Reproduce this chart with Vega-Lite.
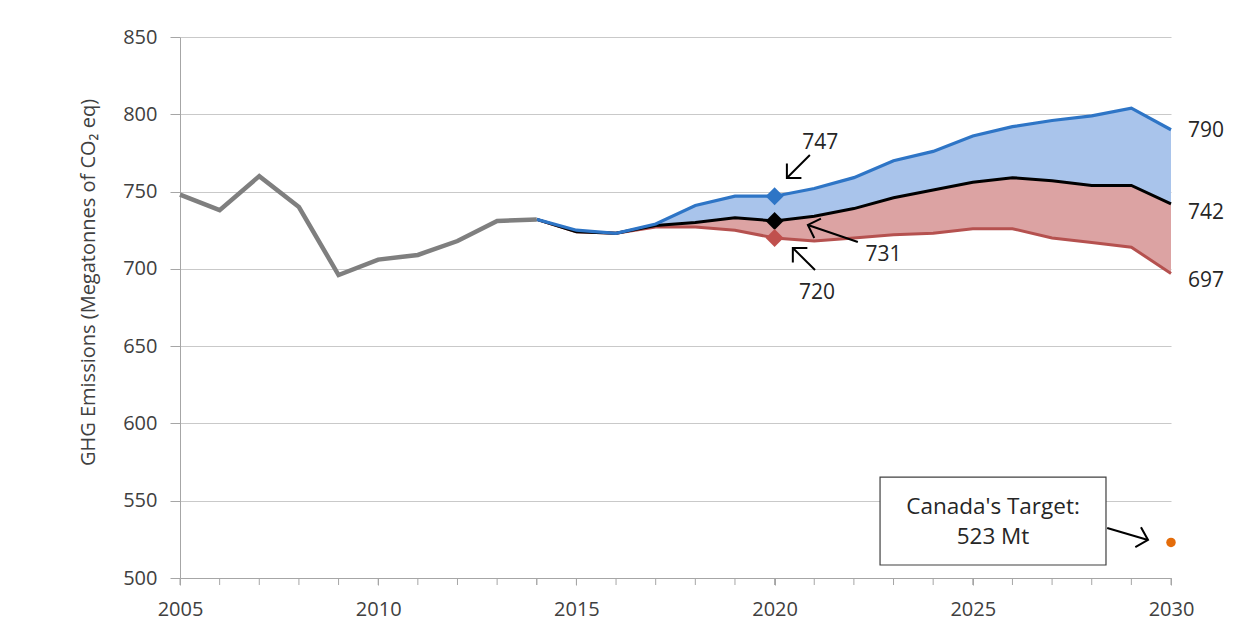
{
  "$schema": "https://vega.github.io/schema/vega-lite/v6.json",
  "width": 991,
  "height": 541,
  "autosize": {"type": "none"},
  "padding": {"left": 180, "top": 37, "right": 80, "bottom": 62},
  "background": "white",
  "config": {
    "view": {"stroke": null},
    "font": "Open Sans",
    "axis": {
      "labelFont": "Open Sans",
      "titleFont": "Open Sans",
      "labelFontSize": 20,
      "labelColor": "#404040",
      "titleColor": "#404040",
      "domainColor": "#a6a6a6",
      "tickColor": "#a6a6a6",
      "gridColor": "#c9c9c9"
    },
    "axisX": {"labelOverlap": false, "labelFlush": false, "tickSize": 7, "labelPadding": 14},
    "axisY": {"labelOverlap": false, "tickSize": 10, "labelPadding": 13}
  },
  "datasets": {
    "history": [
      {"year": 2005, "value": 748},
      {"year": 2006, "value": 738},
      {"year": 2007, "value": 760},
      {"year": 2008, "value": 740},
      {"year": 2009, "value": 696},
      {"year": 2010, "value": 706},
      {"year": 2011, "value": 709},
      {"year": 2012, "value": 718},
      {"year": 2013, "value": 731},
      {"year": 2014, "value": 732}
    ],
    "proj": [
      {"year": 2014, "high": 732, "mid": 732, "low": 732},
      {"year": 2015, "high": 725, "mid": 724, "low": 724},
      {"year": 2016, "high": 723, "mid": 723, "low": 723},
      {"year": 2017, "high": 729, "mid": 728, "low": 727},
      {"year": 2018, "high": 741, "mid": 730, "low": 727},
      {"year": 2019, "high": 747, "mid": 733, "low": 725},
      {"year": 2020, "high": 747, "mid": 731, "low": 720},
      {"year": 2021, "high": 752, "mid": 734, "low": 718},
      {"year": 2022, "high": 759, "mid": 739, "low": 720},
      {"year": 2023, "high": 770, "mid": 746, "low": 722},
      {"year": 2024, "high": 776, "mid": 751, "low": 723},
      {"year": 2025, "high": 786, "mid": 756, "low": 726},
      {"year": 2026, "high": 792, "mid": 759, "low": 726},
      {"year": 2027, "high": 796, "mid": 757, "low": 720},
      {"year": 2028, "high": 799, "mid": 754, "low": 717},
      {"year": 2029, "high": 804, "mid": 754, "low": 714},
      {"year": 2030, "high": 790, "mid": 742, "low": 697}
    ],
    "diamonds": [
      {"year": 2020, "value": 747, "series": "high"},
      {"year": 2020, "value": 731, "series": "mid"},
      {"year": 2020, "value": 720, "series": "low"}
    ],
    "target": [{"year": 2030, "value": 523}],
    "arrows": [
      {"x1": 2020.89, "y1": 773.7, "x2": 2020.31, "y2": 758.8, "angle": 225},
      {"x1": 2022.10, "y1": 717.4, "x2": 2020.84, "y2": 728.4, "angle": 289},
      {"x1": 2021.02, "y1": 699.3, "x2": 2020.46, "y2": 713.5, "angle": 315},
      {"x1": 2028.39, "y1": 532.4, "x2": 2029.42, "y2": 524.6, "angle": 106}
    ],
    "labels": [
      {"year": 2021.15, "value": 781.4, "text": "747"},
      {"year": 2022.75, "value": 709.0, "text": "731"},
      {"year": 2021.07, "value": 684.4, "text": "720"}
    ],
    "boxtext": [
      {"year": 2025.51, "value": 545.9, "text": "Canada's Target:"},
      {"year": 2025.51, "value": 526.5, "text": "523 Mt"}
    ],
    "endlabels": [
      {"year": 2030.43, "value": 789.2, "text": "790"},
      {"year": 2030.43, "value": 736.1, "text": "742"},
      {"year": 2030.43, "value": 692.0, "text": "697"}
    ],
    "box": [{"x1": 2022.66, "x2": 2028.36, "y1": 565.3, "y2": 508.4}]
  },
  "layer": [
    {
      "data": {"name": "proj"},
      "mark": {"type": "area", "color": "#a9c4eb", "opacity": 1},
      "encoding": {
        "x": {
          "field": "year", "type": "quantitative",
          "scale": {"domain": [2005, 2030], "nice": false, "zero": false},
          "axis": {
            "title": null, "grid": false, "format": "d",
            "values": [2005, 2010, 2015, 2020, 2025, 2030],
            "labelOverlap": false, "labelFlush": false
          }
        },
        "y": {
          "field": "high", "type": "quantitative",
          "scale": {"domain": [500, 850], "nice": false, "zero": false},
          "axis": {
            "title": "GHG Emissions (Megatonnes of CO₂ eq)",
            "titleFontSize": 20, "titleFontWeight": "normal",
            "titleX": -92, "titleY": 245, "titleAngle": -90,
            "titleAlign": "center", "titleBaseline": "middle",
            "values": [500, 550, 600, 650, 700, 750, 800, 850],
            "grid": true
          }
        },
        "y2": {"field": "mid"}
      }
    },
    {
      "data": {"name": "history"},
      "mark": {"type": "tick", "orient": "vertical", "size": 7, "thickness": 1, "color": "#a6a6a6", "yOffset": 3.5, "opacity": 1},
      "encoding": {
        "x": {"field": "year", "type": "quantitative"},
        "y": {"datum": 500, "type": "quantitative"}
      }
    },
    {
      "data": {"name": "proj"},
      "mark": {"type": "tick", "orient": "vertical", "size": 7, "thickness": 1, "color": "#a6a6a6", "yOffset": 3.5, "opacity": 1},
      "encoding": {
        "x": {"field": "year", "type": "quantitative"},
        "y": {"datum": 500, "type": "quantitative"}
      }
    },
    {
      "data": {"name": "proj"},
      "mark": {"type": "area", "color": "#dca3a3", "opacity": 1},
      "encoding": {
        "x": {"field": "year", "type": "quantitative"},
        "y": {"field": "mid", "type": "quantitative"},
        "y2": {"field": "low"}
      }
    },
    {
      "data": {"name": "proj"},
      "mark": {"type": "line", "color": "#b5514f", "strokeWidth": 3},
      "encoding": {
        "x": {"field": "year", "type": "quantitative"},
        "y": {"field": "low", "type": "quantitative"}
      }
    },
    {
      "data": {"name": "proj"},
      "mark": {"type": "line", "color": "#000000", "strokeWidth": 3},
      "encoding": {
        "x": {"field": "year", "type": "quantitative"},
        "y": {"field": "mid", "type": "quantitative"}
      }
    },
    {
      "data": {"name": "proj"},
      "mark": {"type": "line", "color": "#2e75c6", "strokeWidth": 3.2},
      "encoding": {
        "x": {"field": "year", "type": "quantitative"},
        "y": {"field": "high", "type": "quantitative"}
      }
    },
    {
      "data": {"name": "history"},
      "mark": {"type": "line", "color": "#7f7f7f", "strokeWidth": 4.5},
      "encoding": {
        "x": {"field": "year", "type": "quantitative"},
        "y": {"field": "value", "type": "quantitative"}
      }
    },
    {
      "data": {"name": "diamonds"},
      "mark": {"type": "point", "shape": "diamond", "filled": true, "size": 320, "opacity": 1},
      "encoding": {
        "x": {"field": "year", "type": "quantitative"},
        "y": {"field": "value", "type": "quantitative"},
        "color": {
          "field": "series", "type": "nominal",
          "scale": {"domain": ["high", "mid", "low"], "range": ["#2e75c6", "#000000", "#c0504d"]},
          "legend": null
        }
      }
    },
    {
      "data": {"name": "target"},
      "mark": {"type": "point", "shape": "circle", "filled": true, "size": 90, "color": "#e46c0a", "opacity": 1},
      "encoding": {
        "x": {"field": "year", "type": "quantitative"},
        "y": {"field": "value", "type": "quantitative"}
      }
    },
    {
      "data": {"name": "box"},
      "mark": {"type": "rect", "fill": "white", "stroke": "#404040", "strokeWidth": 1.2},
      "encoding": {
        "x": {"field": "x1", "type": "quantitative"},
        "x2": {"field": "x2"},
        "y": {"field": "y1", "type": "quantitative"},
        "y2": {"field": "y2"}
      }
    },
    {
      "data": {"name": "arrows"},
      "mark": {"type": "rule", "color": "#000000", "strokeWidth": 2},
      "encoding": {
        "x": {"field": "x1", "type": "quantitative"},
        "y": {"field": "y1", "type": "quantitative"},
        "x2": {"field": "x2"},
        "y2": {"field": "y2"}
      }
    },
    {
      "data": {"name": "arrows"},
      "mark": {"type": "point", "shape": "M -0.7 0.7 L 0 0 L 0.7 0.7", "filled": false, "size": 860, "color": "#000000", "strokeWidth": 2, "opacity": 1},
      "encoding": {
        "x": {"field": "x2", "type": "quantitative"},
        "y": {"field": "y2", "type": "quantitative"},
        "angle": {"field": "angle", "type": "quantitative", "scale": null}
      }
    },
    {
      "data": {"name": "labels"},
      "mark": {"type": "text", "align": "center", "baseline": "middle", "fontSize": 21, "font": "Open Sans", "color": "#262626"},
      "encoding": {
        "x": {"field": "year", "type": "quantitative"},
        "y": {"field": "value", "type": "quantitative"},
        "text": {"field": "text"}
      }
    },
    {
      "data": {"name": "boxtext"},
      "mark": {"type": "text", "align": "center", "baseline": "middle", "fontSize": 22.5, "font": "Open Sans", "color": "#262626"},
      "encoding": {
        "x": {"field": "year", "type": "quantitative"},
        "y": {"field": "value", "type": "quantitative"},
        "text": {"field": "text"}
      }
    },
    {
      "data": {"name": "endlabels"},
      "mark": {"type": "text", "align": "left", "baseline": "middle", "fontSize": 21, "font": "Open Sans", "color": "#262626"},
      "encoding": {
        "x": {"field": "year", "type": "quantitative"},
        "y": {"field": "value", "type": "quantitative"},
        "text": {"field": "text"}
      }
    }
  ]
}
